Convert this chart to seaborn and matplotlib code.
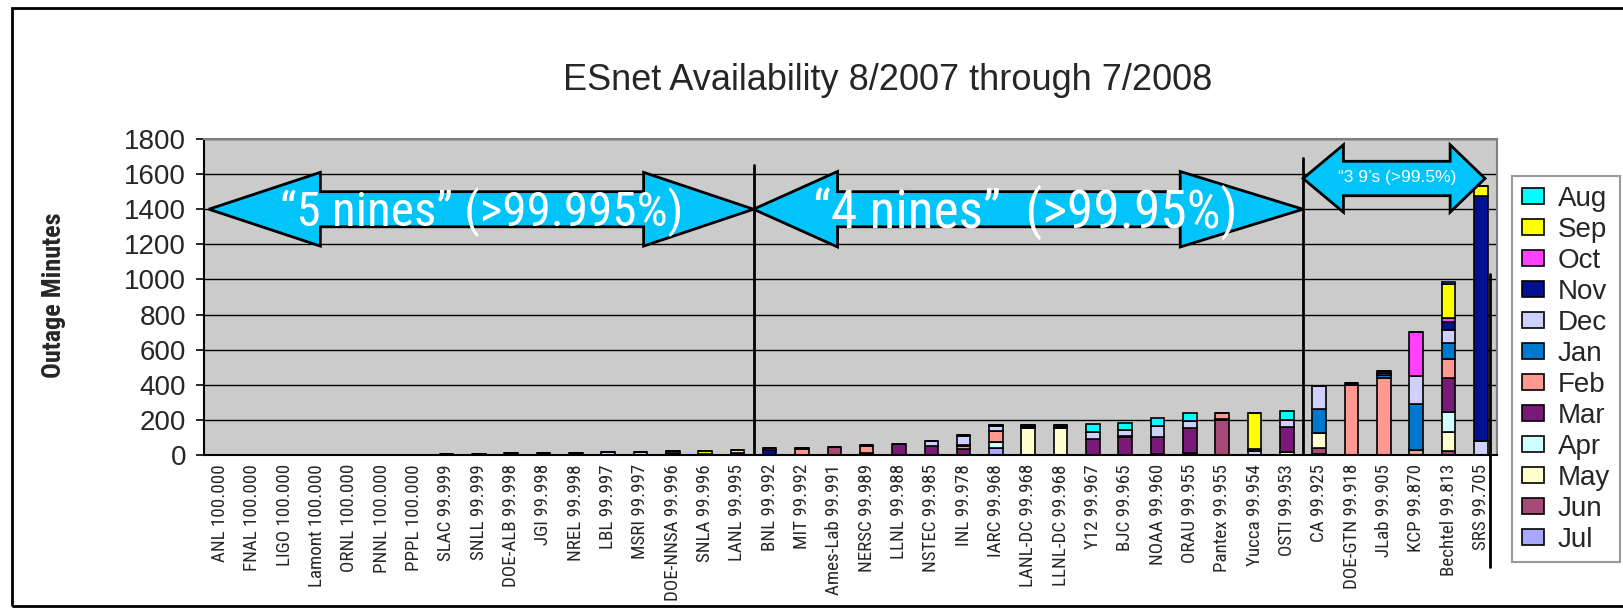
import matplotlib
matplotlib.use('Agg')
import matplotlib.pyplot as plt
from matplotlib import font_manager
from matplotlib.font_manager import FontProperties
from matplotlib.patches import Polygon, Patch, Rectangle
import pandas as pd
import seaborn as sns

# ---- data (outage minutes per site and month) ----
site_names = ['ANL', 'FNAL', 'LIGO', 'Lamont', 'ORNL', 'PNNL', 'PPPL', 'SLAC', 'SNLL', 'DOE-ALB',
              'JGI', 'NREL', 'LBL', 'MSRI', 'DOE-NNSA', 'SNLA', 'LANL', 'BNL', 'MIT', 'Ames-Lab',
              'NERSC', 'LLNL', 'NSTEC', 'INL', 'IARC', 'LANL-DC', 'LLNL-DC', 'Y12', 'BJC', 'NOAA',
              'ORAU', 'Pantex', 'Yucca', 'OSTI', 'CA', 'DOE-GTN', 'JLab', 'KCP', 'Bechtel', 'SRS']
availability = ['100.000', '100.000', '100.000', '100.000', '100.000', '100.000', '100.000', '99.999', '99.999', '99.998',
                '99.998', '99.998', '99.997', '99.997', '99.996', '99.996', '99.995', '99.992', '99.992', '99.991',
                '99.989', '99.988', '99.985', '99.978', '99.968', '99.968', '99.968', '99.967', '99.965', '99.960',
                '99.955', '99.955', '99.954', '99.953', '99.925', '99.918', '99.905', '99.870', '99.813', '99.705']

jul = [0, 0, 0, 0, 0, 0, 0, 0, 0, 0,
       0, 0, 0, 0, 10, 0, 0, 0, 0, 0,
       0, 0, 0, 0, 38, 0, 0, 0, 0, 0,
       0, 0, 0, 0, 8, 0, 0, 0, 0, 0]
jun = [0, 0, 0, 0, 0, 0, 0, 0, 5, 0,
       0, 0, 0, 0, 0, 0, 0, 0, 0, 47,
       0, 0, 0, 0, 0, 0, 0, 0, 0, 5,
       0, 198, 0, 0, 30, 0, 0, 0, 23, 0]
may = [0, 0, 0, 0, 0, 0, 0, 0, 0, 0,
       0, 0, 0, 0, 0, 0, 14, 0, 0, 0,
       14, 0, 0, 0, 0, 152, 152, 0, 0, 0,
       10, 0, 0, 15, 86, 0, 0, 0, 106, 0]
apr = [0, 0, 0, 0, 0, 0, 0, 0, 0, 0,
       0, 0, 0, 0, 0, 0, 0, 0, 0, 0,
       0, 0, 0, 0, 34, 0, 0, 0, 0, 0,
       0, 0, 0, 0, 0, 0, 0, 0, 114, 0]
mar = [0, 0, 0, 0, 0, 0, 0, 0, 0, 0,
       0, 0, 0, 0, 0, 0, 0, 0, 0, 0,
       0, 63, 50, 32, 0, 5, 5, 92, 100, 100,
       142, 8, 0, 145, 0, 0, 0, 0, 194, 0]
feb = [0, 0, 0, 0, 0, 0, 0, 0, 0, 0,
       0, 0, 0, 0, 0, 0, 0, 0, 32, 0,
       38, 0, 0, 22, 62, 0, 0, 0, 0, 0,
       0, 31, 0, 0, 0, 400, 440, 27, 110, 0]
jan = [0, 0, 0, 0, 0, 0, 0, 0, 0, 0,
       0, 0, 0, 0, 0, 0, 0, 0, 0, 0,
       0, 0, 0, 5, 0, 0, 0, 0, 6, 0,
       0, 0, 0, 0, 138, 0, 16, 262, 89, 0]
dec = [0, 0, 0, 0, 0, 0, 0, 0, 0, 10,
       0, 0, 16, 16, 11, 0, 0, 0, 0, 0,
       0, 0, 29, 50, 30, 8, 8, 38, 34, 62,
       41, 0, 25, 42, 133, 0, 12, 162, 76, 78]
nov = [0, 0, 0, 0, 0, 0, 2, 5, 0, 0,
       10, 10, 0, 0, 0, 6, 0, 26, 10, 0,
       6, 0, 0, 7, 5, 4, 4, 0, 0, 0,
       0, 0, 0, 0, 0, 10, 0, 0, 47, 1400]
oct_ = [0, 0, 0, 0, 0, 0, 0, 0, 0, 0,
        0, 0, 0, 0, 0, 0, 0, 16, 0, 0,
        0, 0, 0, 0, 0, 0, 0, 0, 0, 0,
        0, 0, 12, 0, 0, 0, 12, 249, 23, 0]
sep = [0, 0, 0, 0, 0, 0, 0, 0, 0, 0,
       0, 0, 0, 0, 0, 15, 12, 0, 0, 0,
       0, 0, 0, 0, 0, 0, 0, 0, 0, 0,
       0, 0, 205, 0, 0, 0, 0, 0, 190, 57]
aug = [0, 0, 0, 0, 0, 0, 0, 0, 0, 0,
       0, 0, 0, 0, 0, 0, 0, 0, 0, 0,
       0, 0, 0, 0, 0, 0, 0, 44, 44, 44,
       44, 0, 0, 46, 0, 0, 0, 0, 15, 0]

# legend order (top of stack first)
months = ['Aug', 'Sep', 'Oct', 'Nov', 'Dec', 'Jan', 'Feb', 'Mar', 'Apr', 'May', 'Jun', 'Jul']
month_colors = ['#00FFFF', '#FFFF00', '#FF40FF', '#001090', '#D0D0FF', '#0078D0',
                '#FF9890', '#7A1A78', '#D0FFFF', '#FFFFD0', '#A84A78', '#A8A8FF']
monthly = dict(zip(months, [aug, sep, oct_, nov, dec, jan, feb, mar, apr, may, jun, jul]))

labels = [f'{s} {a}' for s, a in zip(site_names, availability)]
rows = []
for m in months:
    for lab, v in zip(labels, monthly[m]):
        rows.append((lab, m, v))
df = pd.DataFrame(rows, columns=['site', 'month', 'minutes'])

# ---- style ----
sns.set_style('white')
plt.rcParams['font.family'] = ['Liberation Sans', 'DejaVu Sans']


# look for a narrow face (Arial Narrow look-alike); fall back to Liberation Sans
def find_narrow(bold=False):
    wanted = 700 if bold else 400
    for key in ['Liberation Sans Narrow', 'Roboto Condensed', 'Open Sans Condensed']:
        for f in font_manager.fontManager.ttflist:
            if f.name == key and f.style == 'normal' and f.weight == wanted:
                return f.fname
    return None


narrow_path = find_narrow()
narrow_bold_path = find_narrow(bold=True)


def narrow_font(size, bold=False):
    path = narrow_bold_path if bold else narrow_path
    if path:
        return FontProperties(fname=path, size=size / 0.82)
    return FontProperties(family='Liberation Sans', size=size,
                          weight='bold' if bold else 'normal')


W, H = 1623, 610
fig = plt.figure(figsize=(W / 100, H / 100), dpi=100)
ax = fig.add_axes([204 / W, (H - 455) / H, (1497 - 204) / W, (455 - 139) / H])
ax.set_facecolor('#CBCBCB')

sns.histplot(data=df, x='site', weights='minutes', hue='month', hue_order=months,
             palette=month_colors, multiple='stack', discrete=True, shrink=0.42,
             edgecolor='black', linewidth=1.2, alpha=1, legend=False, ax=ax)

ax.set_xlim(-0.5, 39.5)
ax.set_ylim(0, 1800)
ax.set_yticks(range(0, 1801, 200))
ax.yaxis.grid(True, color='black', linewidth=1)
ax.set_axisbelow(True)
ax.set_xlabel('')
ax.set_ylabel('')

ax.set_xticks(range(len(labels)))
ax.set_xticklabels(labels, rotation=90, va='top', ha='center',
                   fontproperties=narrow_font(11.2))
ax.set_xticks([i - 0.5 for i in range(len(labels) + 1)], minor=True)
ax.tick_params(axis='x', which='major', length=0, pad=6.5)
ax.tick_params(axis='x', which='minor', length=6, width=1.2, color='black', direction='out')
ax.tick_params(axis='y', length=6, width=1.2, color='black', direction='out', pad=7, labelsize=20)
ax.tick_params(axis='both', bottom=True, left=True)

for side in ['left', 'bottom']:
    ax.spines[side].set_color('black')
    ax.spines[side].set_linewidth(1.5)
for side in ['top', 'right']:
    ax.spines[side].set_color('#808080')
    ax.spines[side].set_linewidth(1.5)


# ---- annotation arrows ----
def double_arrow(xl, xlb, xrb, xr, yc, h, s):
    pts = [(xl, yc), (xlb, yc + h), (xlb, yc + s), (xrb, yc + s), (xrb, yc + h),
           (xr, yc), (xrb, yc - h), (xrb, yc - s), (xlb, yc - s), (xlb, yc - h)]
    ax.add_patch(Polygon(pts, closed=True, facecolor='#00C4FA', edgecolor='black',
                         linewidth=2, zorder=5, clip_on=False))


double_arrow(-0.35, 3.1, 13.1, 16.5, 1400, 210, 100)
double_arrow(16.5, 19.1, 29.7, 33.5, 1400, 215, 100)
double_arrow(33.5, 34.75, 38.05, 39.13, 1575, 192, 98)

ax.text(8.1, 1385, '\u201c5 nines\u201d (>99.995%)', color='white',
        fontproperties=narrow_font(29), ha='center', va='center', zorder=6)
ax.text(24.9, 1385, '\u201c4 nines\u201d  (>99.95%)', color='white',
        fontproperties=narrow_font(31.5), ha='center', va='center', zorder=6)
ax.text(36.4, 1580, '\u201c3 9\u2019s (>99.5%)', color='white', fontsize=12.5,
        ha='center', va='center', zorder=6)

ax.plot([16.5, 16.5], [0, 1650], color='black', linewidth=2, zorder=7)
ax.plot([33.5, 33.5], [10, 1690], color='black', linewidth=2, zorder=7)
ax.plot([39.28, 39.28], [1030, -640], color='black', linewidth=2, zorder=7, clip_on=False)

# ---- titles ----
fig.text(888 / W, 1 - 80 / H, 'ESnet Availability 8/2007 through 7/2008',
         ha='center', va='center', fontsize=26)
fig.text(54 / W, 1 - 295 / H, 'Outage Minutes', rotation=90, ha='center', va='center',
         fontproperties=narrow_font(15.5, bold=True))

# ---- legend ----
handles = [Patch(facecolor=c, edgecolor='black', linewidth=1.2) for c in month_colors]
leg = fig.legend(handles, months, loc='upper left', bbox_to_anchor=(1512 / W, 1 - 176 / H),
                 borderaxespad=0, fontsize=20, frameon=True, fancybox=False,
                 labelspacing=0.18, handlelength=0.8, handleheight=0.55, handletextpad=0.5,
                 borderpad=0.35)
leg.get_frame().set_edgecolor('#808080')
leg.get_frame().set_linewidth(1.5)

# outer frame around the chart
fig.patches.append(Rectangle((12 / W, 4 / H), 1.1, (H - 12) / H, transform=fig.transFigure,
                             fill=False, edgecolor='black', linewidth=2))

fig.savefig('out.png', dpi=100)
